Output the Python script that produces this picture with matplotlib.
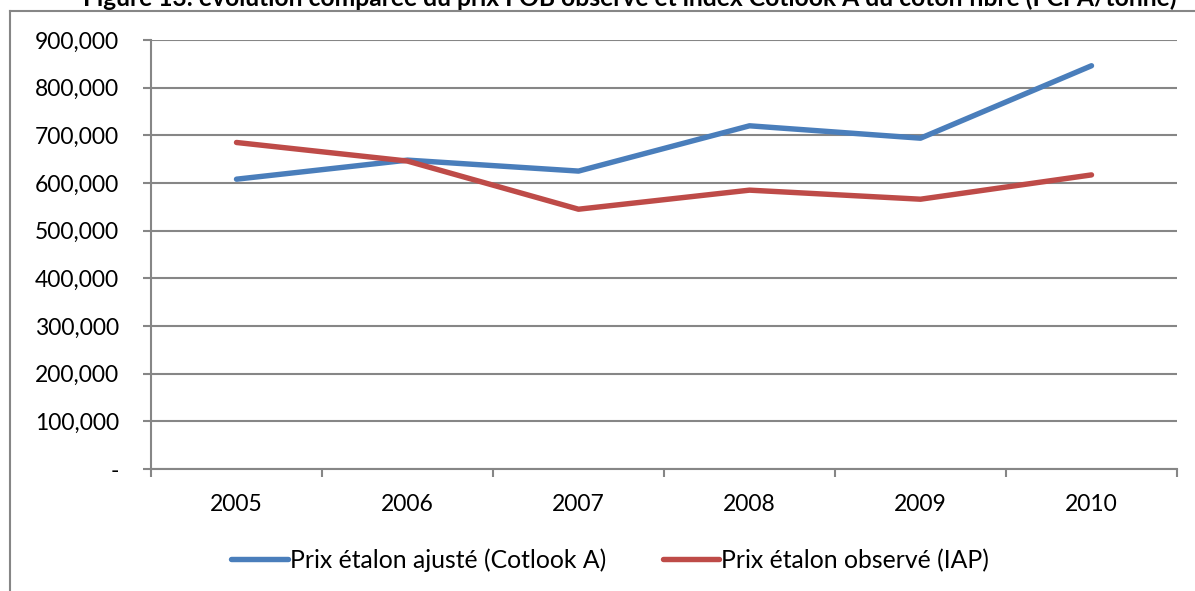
import matplotlib
matplotlib.use("Agg")
import matplotlib.pyplot as plt
from matplotlib.ticker import FuncFormatter, FixedLocator
from matplotlib.lines import Line2D

plt.rcParams['font.family'] = ['Lato', 'DejaVu Sans']

years = ["2005", "2006", "2007", "2008", "2009", "2010"]
cotlook_a = [608000, 648000, 625000, 720000, 694000, 846000]
iap = [685000, 646000, 545000, 585000, 566000, 617000]
label_cotlook = "Prix étalon ajusté (Cotlook A)"
label_iap = "Prix étalon observé (IAP)"
title = "Figure 13: évolution comparée du prix FOB observé et index Cotlook A du coton fibre (FCFA/tonne)"

W, H = 1195, 591
fig = plt.figure(figsize=(W / 100, H / 100), dpi=100)
fig.patch.set_facecolor("white")

grid_col = "#868686"
blue = "#4A7EBB"
red = "#BE4B48"
fs = 16.5

# Outer chart frame (left and top edges visible)
fig.add_artist(Line2D([10 / W, 10 / W], [0, 1 - 11 / H], color=grid_col, lw=1.5,
                      transform=fig.transFigure))
fig.add_artist(Line2D([10 / W, 1], [1 - 11 / H, 1 - 11 / H], color=grid_col, lw=1.5,
                      transform=fig.transFigure))

fig.text(0.527, 1 + 2 / H, title, ha="center", va="center", fontsize=17.7,
         fontweight="bold")

left, right = 151 / W, 1177 / W
bottom, top = (H - 469) / H, (H - 40) / H
ax = fig.add_axes([left, bottom, right - left, top - bottom])

x = list(range(len(years)))
ax.plot(x, cotlook_a, color=blue, lw=3.9, solid_capstyle="round",
        solid_joinstyle="round", label=label_cotlook, zorder=3)
ax.plot(x, iap, color=red, lw=3.9, solid_capstyle="round",
        solid_joinstyle="round", label=label_iap, zorder=3)

ax.set_xlim(-0.5, len(years) - 0.5)
ax.set_ylim(0, 900000)
ax.set_yticks(range(0, 900001, 100000))
ax.yaxis.set_major_formatter(FuncFormatter(lambda v, p: "-" if v == 0 else f"{int(v):,}"))
ax.yaxis.grid(True, color=grid_col, lw=1.5)
ax.set_axisbelow(True)

ax.set_xticks(x)
ax.set_xticklabels(years)
ax.xaxis.set_minor_locator(FixedLocator([i - 0.5 for i in range(len(years) + 1)]))
ax.tick_params(axis="x", which="major", length=0, pad=18, labelsize=fs)
ax.tick_params(axis="x", which="minor", length=6, width=1.5, color=grid_col)
ax.tick_params(axis="y", length=6, width=1.5, color=grid_col, pad=17, labelsize=fs)
for lab in ax.get_yticklabels():
    lab.set_horizontalalignment("right")

for s in ["top", "right"]:
    ax.spines[s].set_visible(False)
for s in ["left", "bottom"]:
    ax.spines[s].set_color(grid_col)
    ax.spines[s].set_linewidth(1.5)

fig.legend(loc="center", bbox_to_anchor=(610 / W, 1 - 560 / H), ncol=2, frameon=False,
           fontsize=17.8, handlelength=2.27, handletextpad=0.08, columnspacing=2.3)

fig.savefig("out.png", dpi=100, facecolor="white")
